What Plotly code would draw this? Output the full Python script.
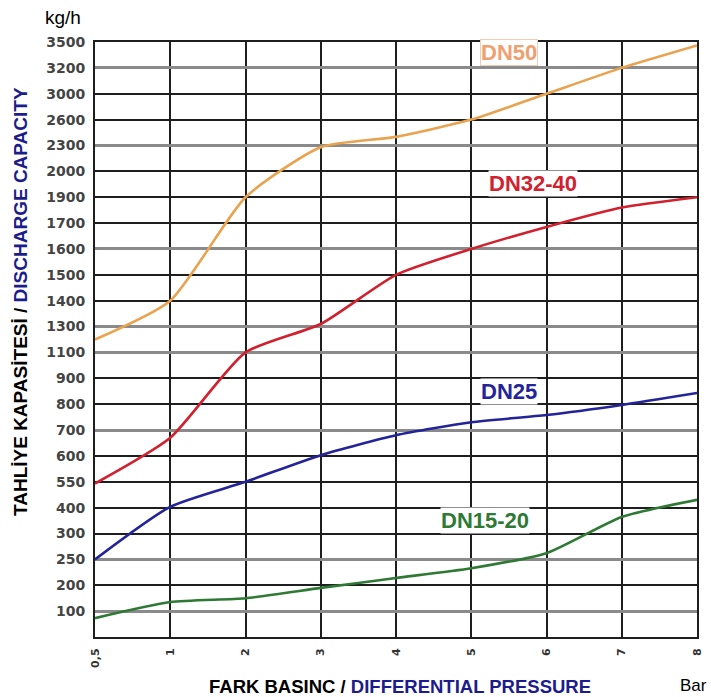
import numpy as np
import plotly.graph_objects as go

# ---- data ----
pressure_labels = ["0,5", "1", "2", "3", "4", "5", "6", "7", "8"]
capacity_ticks = [100, 200, 250, 300, 400, 550, 600, 700, 800, 900, 1100, 1300,
                  1400, 1500, 1600, 1700, 1900, 2000, 2300, 2600, 3000, 3200, 3500]
dn50 = [1200, 1400, 1900, 2280, 2400, 2600, 3000, 3200, 3460]
dn32_40 = [540, 670, 1100, 1310, 1500, 1600, 1685, 1820, 1900]
dn25 = [250, 405, 550, 603, 680, 730, 758, 797, 843]
dn15_20 = [73, 135, 150, 190, 214, 233, 262, 364, 445]

series_names = ["DN50", "DN32-40", "DN25", "DN15-20"]
series_values = [dn50, dn32_40, dn25, dn15_20]
series_colors = ["#E9A24E", "#D1202E", "#24249A", "#2E7A34"]

# gridline tones of the original (grey vs black rows)
grey_rows = [3200, 2300, 1600, 1300, 1100, 700, 250, 100]

# The value axis of the original is evenly spaced per tick label (non-linear scale):
scale_vals = [0] + capacity_ticks
scale_pos = list(range(len(scale_vals)))


def to_axis(v):
    return np.interp(v, scale_vals, scale_pos)


FONT = "Liberation Sans, Arial, sans-serif"

fig = go.Figure()
for name, vals, col in zip(series_names, series_values, series_colors):
    fig.add_trace(go.Scatter(
        x=pressure_labels, y=to_axis(vals), customdata=vals, name=name,
        mode="lines", line=dict(color=col, width=2.6, shape="spline", smoothing=0.6),
        hovertemplate="%{x} bar: %{customdata} kg/h<extra>" + name + "</extra>",
        showlegend=False))

# empty helper traces so the overlay grid axes exist
fig.add_trace(go.Scatter(x=[], y=[], yaxis="y2", showlegend=False, hoverinfo="skip"))
fig.add_trace(go.Scatter(x=[], y=[], yaxis="y3", showlegend=False, hoverinfo="skip"))

black_pos = [to_axis(v) for v in capacity_ticks if v not in grey_rows]
grey_pos = [to_axis(v) for v in capacity_ticks if v in grey_rows]
yr = [0, len(capacity_ticks)]

fig.update_layout(
    width=711, height=697,
    margin=dict(l=95, r=14, t=42, b=60, autoexpand=False),
    paper_bgcolor="white", plot_bgcolor="white",
    font=dict(family=FONT, color="#000"),
    xaxis=dict(type="category", categoryorder="array", categoryarray=pressure_labels,
               range=[0, len(pressure_labels) - 1], automargin=False,
               showgrid=True, gridcolor="#1e1e1e", gridwidth=2,
               showline=True, mirror=True, linecolor="#1e1e1e", linewidth=2,
               ticks="", tickangle=-90, ticklabelstandoff=5,
               tickfont=dict(family="DejaVu Sans", size=11, color="#333", weight="bold"),
               zeroline=False),
    yaxis=dict(range=yr, tickvals=[to_axis(v) for v in capacity_ticks],
               ticktext=[str(v) for v in capacity_ticks], automargin=False,
               showgrid=False, zeroline=False,
               showline=True, mirror=True, linecolor="#1e1e1e", linewidth=2,
               ticks="", ticklabelstandoff=5,
               tickfont=dict(family="DejaVu Sans", size=14, color="#444", weight="bold")),
    yaxis2=dict(range=yr, overlaying="y", tickvals=black_pos, showticklabels=False,
                automargin=False,
                showgrid=True, gridcolor="#1e1e1e", gridwidth=2, zeroline=False, ticks=""),
    yaxis3=dict(range=yr, overlaying="y", tickvals=grey_pos, showticklabels=False,
                automargin=False,
                showgrid=True, gridcolor="#8a8a8a", gridwidth=2.5, zeroline=False, ticks=""),
)

# series labels
label_pos = {"DN50": (0.688, 0.983), "DN32-40": (0.728, 0.763),
             "DN25": (0.688, 0.413), "DN15-20": (0.648, 0.195)}
label_cols = {"DN50": "#EFA070", "DN32-40": "#D1202E", "DN25": "#24249A", "DN15-20": "#2E7A34"}
for name in series_names:
    px, py = label_pos[name]
    fig.add_annotation(x=px, y=py, xref="paper", yref="paper", text="<b>" + name + "</b>",
                       showarrow=False, bgcolor="white",
                       bordercolor="#F3CDB0" if name == "DN50" else "rgba(0,0,0,0)",
                       borderwidth=1, borderpad=0,
                       font=dict(family=FONT, size=22, color=label_cols[name]),
                       xanchor="center", yanchor="middle")

# axis titles and units
fig.add_annotation(x=-0.1246, y=0.5647, xref="paper", yref="paper", textangle=-90,
                   text="<b>TAHLİYE KAPASİTESİ / <span style='color:#1C1C8C'>DISCHARGE CAPACITY</span></b>",
                   showarrow=False, xanchor="center", yanchor="middle",
                   font=dict(family=FONT, size=19, color="#000"))
fig.add_annotation(x=0.5066, y=-0.084, xref="paper", yref="paper",
                   text="<b>FARK BASINC / <span style='color:#1C1C8C'>DIFFERENTIAL PRESSURE</span></b>",
                   showarrow=False, xanchor="center", yanchor="middle",
                   font=dict(family=FONT, size=18.5, color="#000"))
fig.add_annotation(x=-0.0864, y=1.042, xref="paper", yref="paper", text="kg/h",
                   showarrow=False, xanchor="left", yanchor="middle",
                   font=dict(family=FONT, size=19, color="#000"))
fig.add_annotation(x=0.994, y=-0.082, xref="paper", yref="paper", text="Bar",
                   showarrow=False, xanchor="center", yanchor="middle",
                   font=dict(family=FONT, size=17, color="#000"))

fig.write_html("out.html", config={"displayModeBar": False},
               post_script="document.body.style.margin='0';document.body.style.overflow='hidden';")
